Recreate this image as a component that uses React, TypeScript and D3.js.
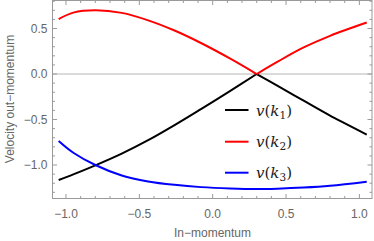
import React from "react";
import * as d3 from "d3";

const xs = [-1.05, -0.95, -0.8, -0.62, -0.44, -0.26, -0.08, 0.12, 0.3, 0.44, 0.62, 0.8, 1.05];
const v1 = [-1.165, -1.103, -1.004, -0.875, -0.727, -0.561, -0.385, -0.185, 0.0, -0.127, -0.293, -0.457, -0.665];
const v2 = [0.604, 0.675, 0.7, 0.672, 0.59, 0.478, 0.341, 0.169, 0.0, 0.133, 0.292, 0.42, 0.566];
const v3 = [-0.736, -0.865, -1.0, -1.115, -1.18, -1.218, -1.243, -1.258, -1.264, -1.26, -1.248, -1.228, -1.183];
const cuspIndex = 8;
const xTicks = [-1.0, -0.5, 0.0, 0.5, 1.0];
const yTicks = [-1.0, -0.5, 0.0, 0.5];
const seriesNames = ["1", "2", "3"];
const seriesColors = ["#000000", "#ff0000", "#0000ff"];

const W = 374, H = 241;
const L = 52.5, R = 372, T = 0.5, B = 198.5;

export default function App() {
  const x = d3.scaleLinear().domain([-1.092, 1.086]).range([L, R]);
  const y = d3.scaleLinear().domain([-1.368, 0.808]).range([B, T]);
  const line = d3.line<[number, number]>().x(d => x(d[0])).y(d => y(d[1])).curve(d3.curveCatmullRom.alpha(0.5));
  const pts = (vs: number[]) => xs.map((xv, i) => [xv, vs[i]] as [number, number]);
  const split = (vs: number[]) => {
    const p = pts(vs);
    return [p.slice(0, cuspIndex + 1), p.slice(cuspIndex)];
  };
  const minorX = d3.range(-10, 11).map(i => i / 10).filter(v => !xTicks.some(t => Math.abs(t - v) < 1e-9));
  const minorY = d3.range(-13, 9).map(i => i / 10).filter(v => !yTicks.some(t => Math.abs(t - v) < 1e-9));
  const fmt = (v: number) => (v < 0 ? "\u2212" : "") + Math.abs(v).toFixed(1);
  const frameC = "#9a9a9a";
  const labelC = "#666666";
  const font = "'Liberation Sans', Arial, sans-serif";
  const legendY = [110, 141.7, 172.7];
  return (
    <svg width={W} height={H} style={{ position: "absolute", left: 0, top: 0 }}>
      <rect x={0} y={0} width={W} height={H} fill="#fff" />
      <line x1={L} x2={R} y1={y(0)} y2={y(0)} stroke="#b5b5b5" strokeWidth={1} />
      {split(v1).map((p, i) => (
        <path key={"a" + i} d={line(p) || ""} fill="none" stroke={seriesColors[0]} strokeWidth={2} />
      ))}
      {split(v2).map((p, i) => (
        <path key={"b" + i} d={line(p) || ""} fill="none" stroke={seriesColors[1]} strokeWidth={2} />
      ))}
      <path d={line(pts(v3)) || ""} fill="none" stroke={seriesColors[2]} strokeWidth={2} />
      <rect x={L} y={T} width={R - L} height={B - T} fill="none" stroke={frameC} strokeWidth={1} />
      {xTicks.map(t => (
        <g key={"xt" + t}>
          <line x1={x(t)} x2={x(t)} y1={B} y2={B - 4.5} stroke={frameC} />
          <line x1={x(t)} x2={x(t)} y1={T} y2={T + 4.5} stroke={frameC} />
          <text x={x(t)} y={218} textAnchor="middle" fontFamily={font} fontSize={12} fill={labelC}>{fmt(t)}</text>
        </g>
      ))}
      {minorX.map(t => (
        <g key={"xm" + t}>
          <line x1={x(t)} x2={x(t)} y1={B} y2={B - 2.5} stroke={frameC} />
          <line x1={x(t)} x2={x(t)} y1={T} y2={T + 2.5} stroke={frameC} />
        </g>
      ))}
      {yTicks.map(t => (
        <g key={"yt" + t}>
          <line x1={L} x2={L + 4.5} y1={y(t)} y2={y(t)} stroke={frameC} />
          <line x1={R} x2={R - 4.5} y1={y(t)} y2={y(t)} stroke={frameC} />
          <text x={47.5} y={y(t) + 4.3} textAnchor="end" fontFamily={font} fontSize={12} fill={labelC}>{fmt(t)}</text>
        </g>
      ))}
      {minorY.map(t => (
        <g key={"ym" + t}>
          <line x1={L} x2={L + 2.5} y1={y(t)} y2={y(t)} stroke={frameC} />
          <line x1={R} x2={R - 2.5} y1={y(t)} y2={y(t)} stroke={frameC} />
        </g>
      ))}
      <text x={212.5} y={237} textAnchor="middle" fontFamily={font} fontSize={12} fill={labelC}>In{"\u2212"}momentum</text>
      <text transform={`translate(13.5,99) rotate(-90)`} textAnchor="middle" fontFamily={font} fontSize={12} fill={labelC}>Velocity out{"\u2212"}momentum</text>
      {seriesNames.map((n, i) => (
        <g key={"lg" + n}>
          <line x1={225} x2={248.5} y1={legendY[i]} y2={legendY[i]} stroke={seriesColors[i]} strokeWidth={2} />
          <text x={256} y={legendY[i] + 5.5} fontFamily="'DejaVu Serif', 'Liberation Serif', serif" fontSize={15} fill="#222">
            <tspan fontStyle="italic">v</tspan>
            <tspan>(</tspan>
            <tspan fontStyle="italic">k</tspan>
            <tspan fontSize={10.5} dy={3}>{n}</tspan>
            <tspan dy={-3}>)</tspan>
          </text>
        </g>
      ))}
    </svg>
  );
}
